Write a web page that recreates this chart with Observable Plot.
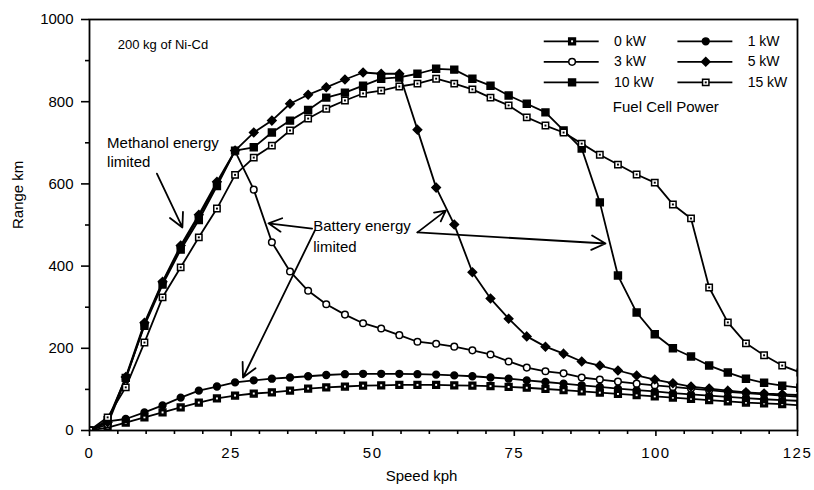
<!DOCTYPE html>
<html><head><meta charset="utf-8">
<script src="https://cdn.jsdelivr.net/npm/d3@7"></script>
<script src="https://cdn.jsdelivr.net/npm/@observablehq/plot@0.6"></script>
<style>
body{margin:0;background:#fff;}
svg g[aria-label="x-axis tick label"] text{letter-spacing:1.5px;}
</style>
</head><body><div id="chart"></div>
<script>
// Speed (kph) sample points
const speeds = [0, 3.2, 6.4, 9.7, 12.9, 16.1, 19.3, 22.5, 25.7, 29.0, 32.2, 35.4, 38.6, 41.8, 45.1, 48.3, 51.5, 54.7, 57.9, 61.2, 64.4, 67.6, 70.8, 74.0, 77.2, 80.5, 83.7, 86.9, 90.1, 93.3, 96.6, 99.8, 103.0, 106.2, 109.4, 112.7, 115.9, 119.1, 122.3, 125.5];
// Range (km) per fuel cell power
const kw0  = [0, 7, 19, 32, 44, 56, 68, 78, 85, 90, 93, 97, 102, 105, 107, 109, 110, 111, 111, 111, 110, 109, 108, 106, 104, 101, 98, 95, 92, 89, 86, 83, 80, 77, 74, 71, 68, 66, 64, 61];
const kw1  = [0, 22, 28, 44, 61, 80, 97, 107, 117, 122, 126, 129, 132, 135, 137, 138, 138, 138, 137, 136, 134, 132, 129, 126, 122, 118, 114, 110, 106, 102, 98, 95, 91, 88, 85, 82, 79, 76, 74, 72];
const kw3  = [0, 15, 125, 258, 360, 445, 520, 600, 680, 586, 458, 387, 340, 307, 282, 261, 248, 232, 216, 211, 204, 195, 185, 168, 153, 144, 139, 129, 124, 119, 114, 110, 106, 102, 98, 94, 91, 88, 85, 82];
const kw5  = [0, 20, 130, 262, 362, 450, 525, 605, 681, 725, 754, 795, 817, 835, 854, 871, 868, 868, 732, 591, 501, 385, 321, 272, 229, 204, 187, 168, 158, 146, 134, 124, 115, 107, 102, 97, 93, 90, 88, 86];
const kw10 = [0, 25, 128, 255, 355, 440, 512, 595, 681, 689, 725, 754, 780, 810, 822, 839, 856, 859, 868, 880, 878, 856, 839, 815, 795, 774, 730, 686, 555, 377, 287, 234, 200, 180, 158, 141, 126, 116, 109, 104];
const kw15 = [0, 32, 105, 214, 324, 397, 470, 540, 622, 664, 693, 730, 759, 783, 803, 820, 827, 837, 844, 856, 844, 830, 810, 791, 762, 742, 725, 698, 671, 647, 623, 603, 550, 516, 348, 263, 212, 183, 158, 141];
const seriesNames = ["0 kW", "1 kW", "3 kW", "5 kW", "10 kW", "15 kW"];
const xTicks = [0, 25, 50, 75, 100, 125];
const yTicks = [0, 200, 400, 600, 800, 1000];
const xMinor = [5, 10, 15, 20, 30, 35, 40, 45, 55, 60, 65, 70, 80, 85, 90, 95, 105, 110, 115, 120];
const yMinor = [100, 300, 500, 700, 900];
const notes = [
  {x: 5.0, y: 939, text: "200 kg of Ni-Cd", size: 13},
  {x: 3.1, y: 698, text: "Methanol energy", size: 15},
  {x: 3.1, y: 652, text: "limited", size: 15},
  {x: 39.5, y: 496, text: "Battery energy", size: 15},
  {x: 39.5, y: 445, text: "limited", size: 15}
];
const arrows = [
  {x1: 11.9, y1: 625, x2: 16.4, y2: 494},
  {x1: 39.3, y1: 491, x2: 31.6, y2: 504},
  {x1: 39.8, y1: 487, x2: 27.1, y2: 129},
  {x1: 57.9, y1: 482, x2: 62.9, y2: 535},
  {x1: 57.9, y1: 482, x2: 91.1, y2: 455}
];
const legendTitle = "Fuel Cell Power";

// styles per series
const styles = {
  "0 kW":  {symbol: "square", r: 3.8, fill: "black", stroke: "black", inner: "white"},
  "1 kW":  {symbol: "circle", r: 3.4, fill: "black", stroke: "black"},
  "3 kW":  {symbol: "circle", r: 3.3, fill: "white", stroke: "black"},
  "5 kW":  {symbol: "diamond2", r: 3.8, fill: "black", stroke: "black"},
  "10 kW": {symbol: "square", r: 3.9, fill: "black", stroke: "black"},
  "15 kW": {symbol: "square", r: 3.6, fill: "white", stroke: "black", inner: "black"}
};
const valuesList = [kw0, kw1, kw3, kw5, kw10, kw15];
const series = seriesNames.map((name, k) => ({name, rows: speeds.map((x, i) => ({x, y: valuesList[k][i]}))}));

// legend layout (data units)
const legCol = {"0 kW": 0, "3 kW": 0, "10 kW": 0, "1 kW": 1, "5 kW": 1, "15 kW": 1};
const legRow = {"0 kW": 0, "1 kW": 0, "3 kW": 1, "5 kW": 1, "10 kW": 2, "15 kW": 2};
const legend = seriesNames.map(name => {
  const c = legCol[name] * 23.6, yy = 947 - legRow[name] * 50;
  return {name, x1: 80.2 + c, x2: 89.9 + c, xm: 85.2 + c, xl: 92.6 + c, y: yy};
});

const LW = 1.8;
const marks = [];
for (const s of series) {
  marks.push(Plot.line(s.rows, {x: "x", y: "y", stroke: "black", strokeWidth: LW, clip: true}));
}
for (const s of series) {
  const st = styles[s.name];
  marks.push(Plot.dot(s.rows, {x: "x", y: "y", symbol: st.symbol, r: st.r, fill: st.fill, stroke: st.stroke, strokeWidth: 1.5, clip: true}));
  if (st.inner) marks.push(Plot.dot(s.rows, {x: "x", y: "y", symbol: "square", r: 1.1, fill: st.inner, stroke: "none", clip: true}));
}
// legend
marks.push(Plot.link(legend, {x1: "x1", x2: "x2", y1: "y", y2: "y", stroke: "black", strokeWidth: LW}));
for (const l of legend) {
  const st = styles[l.name];
  marks.push(Plot.dot([l], {x: "xm", y: "y", symbol: st.symbol, r: st.r, fill: st.fill, stroke: st.stroke, strokeWidth: 1.5}));
  if (st.inner) marks.push(Plot.dot([l], {x: "xm", y: "y", symbol: "square", r: 1.1, fill: st.inner, stroke: "none"}));
}
marks.push(Plot.text(legend, {x: "xl", y: "y", text: "name", textAnchor: "start", fontSize: 14, fill: "black"}));
marks.push(Plot.text([legendTitle], {x: () => 92.4, y: () => 786, text: d => d, textAnchor: "start", fontSize: 15, fill: "black"}));
// annotations
marks.push(Plot.text(notes, {x: "x", y: "y", text: "text", textAnchor: "start", fontSize: "size", fill: "black"}));
marks.push(Plot.arrow(arrows, {x1: "x1", y1: "y1", x2: "x2", y2: "y2", stroke: "black", strokeWidth: LW, headLength: 13, headAngle: 55}));
// axes
marks.push(Plot.axisX({ticks: xTicks, tickSize: 6, tickPadding: 11, tickFormat: d => String(d), label: null, strokeWidth: 1.6, fontSize: 15}));
marks.push(Plot.axisX({ticks: xMinor, tickSize: 4, tickFormat: () => "", label: null, strokeWidth: 1.6}));
marks.push(Plot.axisY({ticks: yTicks, tickSize: 8, tickPadding: 8, tickFormat: d => String(d), label: null, strokeWidth: 1.6, fontSize: 15}));
marks.push(Plot.axisY({ticks: yMinor, tickSize: 4, tickFormat: () => "", label: null, strokeWidth: 1.6}));
marks.push(Plot.frame({stroke: "black", strokeWidth: 1.8}));
marks.push(Plot.text(["Range km"], {frameAnchor: "left", text: d => d, rotate: -90, dx: -71, dy: 4, fontSize: 15, fill: "black"}));
marks.push(Plot.text(["Speed kph"], {frameAnchor: "bottom", text: d => d, dx: -22, dy: 50, fontSize: 15, fill: "black"}));

const chart = Plot.plot({
  width: 814, height: 490,
  marginLeft: 89, marginRight: 17, marginTop: 19, marginBottom: 60,
  x: {domain: [0, 125]},
  y: {domain: [0, 1000]},
  style: {fontFamily: "'Liberation Sans', Arial, Helvetica, sans-serif", fontSize: "15px", color: "black", background: "white"},
  marks
});
document.getElementById("chart").appendChild(chart);
</script>
</body></html>
